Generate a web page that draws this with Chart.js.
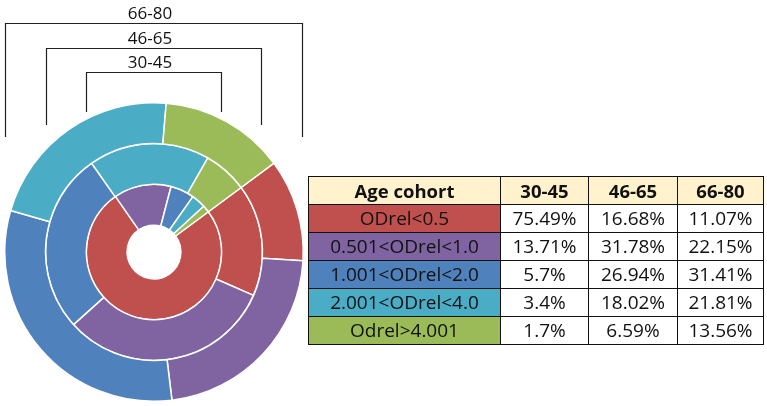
<!DOCTYPE html>
<html>
<head>
<meta charset="utf-8">
<script src="https://cdn.jsdelivr.net/npm/chart.js@4.4.1/dist/chart.umd.min.js"></script>
<style>
  html, body { margin: 0; padding: 0; background: #fff; }
  body { width: 767px; height: 406px; position: relative; overflow: hidden; font-family: "Open Sans", sans-serif; }
  #wrap { position: absolute; left: 0; top: 0; width: 310px; height: 406px; }
  #tbl { position: absolute; left: 308px; top: 176px; border-collapse: collapse; table-layout: fixed; color: #111; font-size: 19px; }
  #tbl td { border: 1px solid #111; text-align: center; padding: 0; height: 27px; line-height: 27px; white-space: nowrap; }
  #tbl tr.head td { background: #fff2cc; font-weight: bold; font-size: 18.5px; height: 26px; }
</style>
</head>
<body>
<div id="wrap"><canvas id="myChart"></canvas></div>
<table id="tbl"></table>
<script>
const cohorts = ["30-45", "46-65", "66-80"];
const categories = ["ODrel<0.5", "0.501<ODrel<1.0", "1.001<ODrel<2.0", "2.001<ODrel<4.0", "Odrel>4.001"];
const share3045 = [75.49, 13.71, 5.7, 3.4, 1.7];
const share4665 = [16.68, 31.78, 26.94, 18.02, 6.59];
const share6680 = [11.07, 22.15, 31.41, 21.81, 13.56];

const colors = ["#c0504d", "#8064a2", "#4f81bd", "#4bacc6", "#9bbb59"];

// table on the right
const tbl = document.getElementById("tbl");
const widths = [192, 88, 89, 86];
let html = "<colgroup>" + widths.map((w) => '<col style="width:' + w + 'px">').join("") + "</colgroup>";
html += '<tr class="head"><td>Age cohort</td>' + cohorts.map((c) => "<td>" + c + "</td>").join("") + "</tr>";
categories.forEach((cat, i) => {
  const esc = cat.replace(/</g, "&lt;").replace(/>/g, "&gt;");
  html += '<tr><td style="background:' + colors[i] + '">' + esc + "</td>";
  [share3045, share4665, share6680].forEach((s) => {
    html += "<td>" + s[i] + "%</td>";
  });
  html += "</tr>";
});
tbl.innerHTML = html;

// brackets over the rings, outermost first
const bracketTop = [23, 48, 72];
const bracketBottom = [137, 125, 112];
const bracketLabels = ["66-80", "46-65", "30-45"];

const bracketPlugin = {
  id: "brackets",
  afterDraw(chart) {
    const ctx = chart.ctx;
    ctx.save();
    ctx.strokeStyle = "#222";
    ctx.lineWidth = 1.2;
    ctx.fillStyle = "#111";
    ctx.font = '17px "Open Sans"';
    ctx.textAlign = "center";
    ctx.textBaseline = "middle";
    for (let i = 0; i < 3; i++) {
      const arc = chart.getDatasetMeta(i).data[0];
      const x0 = Math.round(arc.x - arc.outerRadius) + 0.5;
      const x1 = Math.round(arc.x + arc.outerRadius) - 0.5;
      const yt = bracketTop[i] + 0.5;
      ctx.beginPath();
      ctx.moveTo(x0, bracketBottom[i]);
      ctx.lineTo(x0, yt);
      ctx.lineTo(x1, yt);
      ctx.lineTo(x1, bracketBottom[i]);
      ctx.stroke();
      ctx.fillText(bracketLabels[i], arc.x - 4, bracketTop[i] - 9);
    }
    ctx.restore();
  },
};

const ctx = document.getElementById("myChart").getContext("2d");
const myChart = new Chart(ctx, {
  type: "doughnut",
  data: {
    labels: categories,
    datasets: [
      { label: "66-80", data: share6680, backgroundColor: colors, borderColor: "#fff", borderWidth: 1.5 },
      { label: "46-65", data: share4665, backgroundColor: colors, borderColor: "#fff", borderWidth: 1.5 },
      { label: "30-45", data: share3045, backgroundColor: colors, borderColor: "#fff", borderWidth: 1.5 },
    ],
  },
  options: {
    responsive: true,
    maintainAspectRatio: false,
    animation: false,
    rotation: 53.5,
    cutout: "18%",
    layout: { padding: { left: 4, right: 6, top: 102, bottom: 4 } },
    plugins: {
      legend: { display: false },
      tooltip: { enabled: false },
    },
  },
  plugins: [bracketPlugin],
});
</script>
</body>
</html>
